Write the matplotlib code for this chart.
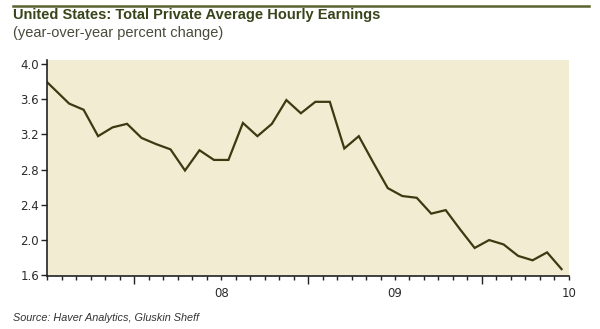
import numpy as np
import matplotlib
matplotlib.use("Agg")
import matplotlib.pyplot as plt
from matplotlib.lines import Line2D

###### DATA ######
# months since Jan 2007, values plotted mid-month (first point falls before the axis and is clipped)
months = np.arange(-0.5, 36, 1.0)
earnings_yoy = [
    3.87, 3.71, 3.55, 3.48, 3.18, 3.28, 3.32, 3.16, 3.09, 3.03, 2.79, 3.02,
    2.91, 2.91, 3.33, 3.18, 3.32, 3.59, 3.44, 3.57, 3.57, 3.04, 3.18, 2.88,
    2.59, 2.50, 2.48, 2.30, 2.34, 2.12, 1.91, 2.00, 1.95, 1.82, 1.77, 1.86, 1.67,
]
y_ticks = [1.6, 2.0, 2.4, 2.8, 3.2, 3.6, 4.0]
x_major = [6, 12, 18, 24, 30, 36]
x_labels = ["", "08", "", "09", "", "10"]

title = "United States: Total Private Average Hourly Earnings"
subtitle = "(year-over-year percent change)"
source = "Source: Haver Analytics, Gluskin Sheff"

###### STYLE ######
bg = "#f2ecd2"
line_col = "#3d3a12"
title_col = "#39441a"
rule_col = "#5b6330"
axis_col = "#222222"

fig = plt.figure(figsize=(6.0, 3.29), dpi=100)
ax = fig.add_axes([0.079, 0.1596, 0.869, 0.658])
ax.set_facecolor(bg)

ax.plot(months, earnings_yoy, color=line_col, lw=1.6, solid_joinstyle="miter")

ax.set_xlim(0, 36)
ax.set_ylim(1.586, 4.045)

ax.spines["top"].set_visible(False)
ax.spines["right"].set_visible(False)
for s in ("left", "bottom"):
    ax.spines[s].set_color(axis_col)
    ax.spines[s].set_linewidth(1.2)

ax.set_yticks(y_ticks)
ax.set_yticklabels([f"{v:.1f}" for v in y_ticks])
ax.tick_params(axis="y", length=4, width=1.0, color=axis_col, pad=2,
               labelsize=8.5, labelcolor="#2a2a2a")

ax.set_xticks(x_major)
ax.set_xticklabels(x_labels)
ax.set_xticks(np.arange(0, 37), minor=True)
ax.tick_params(axis="x", which="both", length=3, width=1.0, color=axis_col)
ax.tick_params(axis="x", which="major", pad=4.5, labelsize=8.5, labelcolor="#2a2a2a")
for t, lab in zip(ax.xaxis.get_major_ticks(), x_labels):
    if lab == "":
        t.tick1line.set_markersize(6)

for lab in ax.get_xticklabels() + ax.get_yticklabels():
    lab.set_family("DejaVu Sans")

# header rule, title, subtitle, source
fig.add_artist(Line2D([13 / 600, 589 / 600], [1 - 5.5 / 329] * 2,
                      color=rule_col, lw=1.8, transform=fig.transFigure))
fig.text(13 / 600, 1 - 19.5 / 329, title, ha="left", va="baseline",
         fontsize=10.5, fontweight="bold", color=title_col, family="Liberation Sans")
fig.text(13 / 600, 1 - 37.5 / 329, subtitle, ha="left", va="baseline",
         fontsize=10.5, color="#4a4a3c", family="Liberation Sans")
fig.text(13 / 600, 1 - 321 / 329, source, ha="left", va="baseline",
         fontsize=7.8, style="italic", color="#333333", family="Liberation Sans")

fig.savefig("out.png", dpi=100, facecolor="white")
